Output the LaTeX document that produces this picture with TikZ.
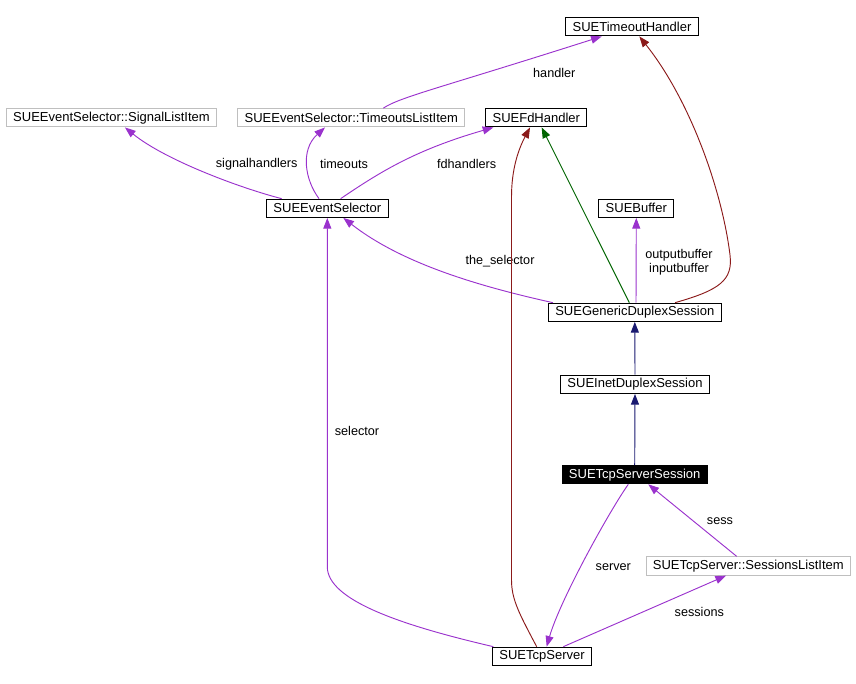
\documentclass[tikz,border=0pt]{standalone}
\usepackage{fontspec}
\setmainfont{Liberation Sans}
\usetikzlibrary{arrows.meta}

\definecolor{usecol}{RGB}{154,50,205}
\definecolor{pubcol}{RGB}{25,25,112}
\definecolor{protcol}{RGB}{0,100,0}
\definecolor{privcol}{RGB}{139,26,26}
\definecolor{boxgray}{RGB}{191,191,191}

\begin{document}
\begin{tikzpicture}[
  x=0.75pt, y=-0.75pt,
  classbox/.style={rectangle, draw=black, line width=0.75pt, fill=white,
    inner xsep=5.2pt, inner ysep=0pt, minimum height=13.7pt,
    font=\fontsize{9.75}{11}\selectfont},
  extbox/.style={classbox, draw=boxgray},
  mainbox/.style={classbox, fill=black, text=white},
  lbl/.style={font=\fontsize{9.5}{10.5}\selectfont, align=center, inner sep=0pt},
  tip/.style={-{Triangle[length=8pt,width=6pt]}, line width=0.7pt},
  use/.style={tip, draw=usecol},
  pub/.style={tip, draw=pubcol},
  prot/.style={tip, draw=protcol},
  priv/.style={tip, draw=privcol},
]
\useasboundingbox (0,0) rectangle (856,684);

% ============================================================
% CLASSES
% ============================================================
\node[classbox] (timeout) at (632,26.8) {SUETimeoutHandler};
\node[extbox] (siglist) at (111.5,117.8) {SUEEventSelector::SignalListItem};
\node[extbox] (toutlist) at (351.3,117.8) {SUEEventSelector::TimeoutsListItem};
\node[classbox] (fdh) at (536.3,117.8) {SUEFdHandler};
\node[classbox] (evsel) at (327.3,208.3) {SUEEventSelector};
\node[classbox] (buffer) at (636.3,208.3) {SUEBuffer};
\node[classbox] (gds) at (634.8,312.3) {SUEGenericDuplexSession};
\node[classbox] (ids) at (635,384.3) {SUEInetDuplexSession};
\node[mainbox] (tss) at (634.7,474.7) {SUETcpServerSession};
\node[extbox] (slist) at (748.3,566) {SUETcpServer::SessionsListItem};
\node[classbox] (tcps) at (542,656.3) {SUETcpServer};

% ============================================================
% SUEEventSelector members
% ============================================================
\draw[use] ([xshift=-34.2pt]evsel.north) .. controls (240,188) and (165,160) .. ([xshift=10.1pt]siglist.south);
\node[lbl] (l-sig) at (256.7,164) {signalhandlers};
\draw[use] ([xshift=-6.2pt]evsel.north) .. controls (305,180) and (300,150) .. ([xshift=-19.7pt]toutlist.south);
\node[lbl] (l-tout) at (344,164) {timeouts};
\draw[use] ([xshift=10pt]evsel.north) .. controls (380,172) and (415,150) .. ([xshift=-32.2pt]fdh.south);
\node[lbl] (l-fd) at (466.7,164) {fdhandlers};
\draw[use] ([xshift=24pt]toutlist.north) .. controls (400,97) and (440,88) .. ([xshift=-22.7pt]timeout.south);
\node[lbl] (l-hand) at (554.3,72.7) {handler};

% ============================================================
% SUEGenericDuplexSession
% ============================================================
\draw[use] ([xshift=-61.4pt]gds.north) .. controls (473,285) and (400,262) .. ([xshift=12pt]evsel.south);
\node[lbl] (l-sel) at (500,260.7) {the\_selector};
\draw[use] ([xshift=0.9pt]gds.north) -- (buffer.south);
\node[lbl] (l-buf) at (679,262) {outputbuffer\\inputbuffer};
\draw[prot] ([xshift=-4.1pt]gds.north) -- ([xshift=4pt]fdh.south);
\draw[priv] ([xshift=30.2pt]gds.north) .. controls (720,290) and (733,280) .. (730,255)
  .. controls (722,190) and (690,100) .. ([xshift=5.5pt]timeout.south);

% inheritance chain
\draw[pub] (ids.north) -- (gds.south);
\draw[pub] (tss.north) -- (ids.south);

% ============================================================
% SUETcpServer
% ============================================================
\draw[use] ([xshift=-36.5pt]tcps.north) .. controls (400,625) and (327.3,600) .. (327.3,566.7) -- (evsel.south);
\node[lbl] (l-selector) at (357,431) {selector};
\draw[priv] ([xshift=-4pt]tcps.north) .. controls (520,615) and (511.5,600) .. (511.5,580) -- (511.5,197)
  .. controls (511.5,170) and (518,150) .. ([xshift=-4.7pt]fdh.south);
\draw[use] ([xshift=-4.8pt]tss.south) .. controls (610,510) and (560,600) .. ([xshift=3.5pt]tcps.north);
\node[lbl] (l-srv) at (613.3,566.7) {server};
\draw[use] ([xshift=-8.7pt]slist.north) -- ([xshift=10.2pt]tss.south);
\node[lbl] (l-sess) at (720,520.7) {sess};
\draw[use] ([xshift=16pt]tcps.north) -- ([xshift=-16.7pt]slist.south);
\node[lbl] (l-sessions) at (699.3,611.7) {sessions};

\end{tikzpicture}
\end{document}
